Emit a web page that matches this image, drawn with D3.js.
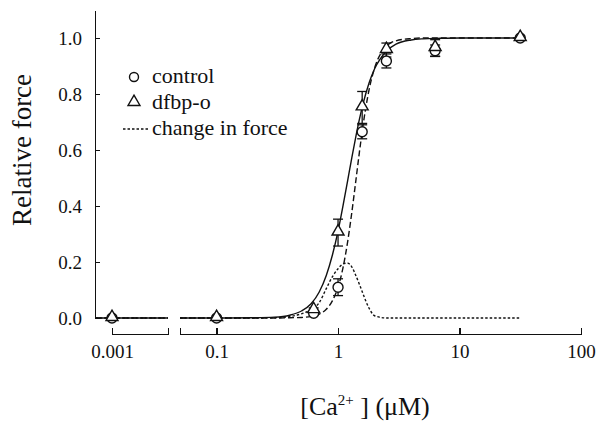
<!DOCTYPE html>
<meta charset="utf-8">
<style>
body { margin: 0; background: #fff; }
text { font-family: "Liberation Serif", "DejaVu Serif", serif; }
.axis path, .axis line { fill: none; stroke: #111; stroke-width: 1.5px; shape-rendering: crispEdges; }
.axis text { fill: #111; font-size: 19px; }
.fit { fill: none; stroke: #111; stroke-width: 1.4px; }
.err { stroke: #111; stroke-width: 1.3px; }
.mark { fill: #fff; stroke: #111; stroke-width: 1.4px; }
</style>
<body>
<script src="https://cdnjs.cloudflare.com/ajax/libs/d3/7.8.5/d3.min.js"></script>
<script>

// measured points (mean +- error)
var concentration = [0.001, 0.1, 0.63, 1.0, 1.58, 2.5, 6.3, 31.6];
var control      = [0, 0, 0.017, 0.11, 0.665, 0.918, 0.955, 1.0];
var controlErr   = [0, 0, 0.008, 0.03, 0.025, 0.025, 0.02, 0];
var dfbp         = [0, 0, 0.028, 0.305, 0.752, 0.957, 0.964, 1.0];
var dfbpErr      = [0, 0, 0.008, 0.048, 0.057, 0.025, 0.03, 0];

// fitted curves
var fitX       = [0.00073, 0.00288, 0.05, 0.1, 0.2, 0.3, 0.4, 0.5, 0.6, 0.7, 0.8, 0.9,
                  1.0, 1.1, 1.2, 1.3, 1.4, 1.5, 1.6, 1.8, 2.0, 2.5, 3, 4, 5, 7, 10, 20, 31.6];
var dfbpFit    = [0, 0, 0, 0, 0.001, 0.003, 0.01, 0.025, 0.051, 0.093, 0.152, 0.226,
                  0.31, 0.402, 0.491, 0.574, 0.647, 0.71, 0.762, 0.839, 0.89, 0.953, 0.978, 0.993, 0.997, 0.999, 1, 1, 1];
var controlFit = [0, 0, 0, 0, 0, 0, 0.001, 0.002, 0.006, 0.014, 0.031, 0.062,
                  0.11, 0.181, 0.273, 0.379, 0.489, 0.593, 0.683, 0.815, 0.893, 0.97, 0.99, 0.998, 1, 1, 1, 1, 1];
var changeFit  = [0, 0, 0, 0, 0, 0.001, 0.005, 0.015, 0.03, 0.055, 0.105, 0.148,
                  0.176, 0.193, 0.196, 0.182, 0.152, 0.12, 0.088, 0.035, 0.008, 0, 0, 0, 0, 0, 0, 0, 0];

var yTicks = [0, 0.2, 0.4, 0.6, 0.8, 1.0];
var xTicks = [0.1, 1, 10, 100];
var xTicksLeft = [0.001];

var serif = "'Liberation Serif', 'DejaVu Serif', serif";

var svg = d3.select("body").append("svg")
    .attr("width", 604)
    .attr("height", 430);

var y = d3.scaleLinear().domain([0, 1.1]).range([318, 10]);
// broken log axis: small piece for 0.001, main piece 0.05..100
var xLeft = d3.scaleLog().domain([0.001, 0.00288]).range([112, 168]);
var xMain = d3.scaleLog().domain([0.05, 100]).range([180, 581]);
function xs(v) { return v < 0.01 ? xLeft(v) : xMain(v); }

// axes
svg.append("g")
    .attr("class", "axis")
    .attr("transform", "translate(95,0)")
    .call(d3.axisLeft(y).tickValues(yTicks).tickSizeInner(-5).tickSizeOuter(0)
      .tickPadding(13).tickFormat(d3.format(".1f")))
    .attr("font-family", serif);

svg.append("g")
    .attr("class", "axis")
    .attr("transform", "translate(0,334)")
    .call(d3.axisBottom(xMain).tickValues(xTicks).tickSizeInner(-6).tickSizeOuter(-6)
      .tickPadding(11).tickFormat(d3.format("")))
    .attr("font-family", serif);

svg.append("g")
    .attr("class", "axis")
    .attr("transform", "translate(0,334)")
    .call(d3.axisBottom(xLeft).tickValues(xTicksLeft).tickSizeInner(-6).tickSizeOuter(-6)
      .tickPadding(11).tickFormat(function(d) { return "0.001"; }))
    .attr("font-family", serif);

// curves, split into the two axis pieces
function drawCurve(vals, dash) {
  var pts = fitX.map(function(v, i) { return [v, vals[i]]; });
  var parts = [pts.filter(function(p) { return p[0] < 0.01; }),
               pts.filter(function(p) { return p[0] >= 0.01; })];
  var line = d3.line()
      .x(function(p) { return xs(p[0]); })
      .y(function(p) { return y(p[1]); })
      .curve(d3.curveMonotoneX);
  parts.forEach(function(part) {
    svg.append("path")
        .attr("class", "fit")
        .attr("d", line(part))
        .style("stroke-dasharray", dash);
  });
}
drawCurve(changeFit, "2.5,2");
drawCurve(controlFit, "6,3");
drawCurve(dfbpFit, null);

// error bars
function drawErr(vals, errs) {
  concentration.forEach(function(c, i) {
    if (!errs[i]) return;
    var cx = xs(c), y0 = y(vals[i] - errs[i]), y1 = y(vals[i] + errs[i]);
    svg.append("line").attr("class", "err").attr("x1", cx).attr("x2", cx).attr("y1", y0).attr("y2", y1);
    [y0, y1].forEach(function(yy) {
      svg.append("line").attr("class", "err")
          .attr("x1", cx - 5).attr("x2", cx + 5).attr("y1", yy).attr("y2", yy);
    });
  });
}
drawErr(control, controlErr);
drawErr(dfbp, dfbpErr);

var tri = d3.symbol().type(d3.symbolTriangle).size(62);

svg.selectAll(".ctl")
    .data(concentration)
  .enter().append("circle")
    .attr("class", "mark")
    .attr("cx", function(d) { return xs(d); })
    .attr("cy", function(d, i) { return y(control[i]); })
    .attr("r", 5);

svg.selectAll(".dfb")
    .data(concentration)
  .enter().append("path")
    .attr("class", "mark")
    .attr("d", tri)
    .attr("transform", function(d, i) { return "translate(" + xs(d) + "," + (y(dfbp[i]) - 1) + ")"; });

// legend
svg.append("circle").attr("class", "mark").attr("cx", 134).attr("cy", 77).attr("r", 4.5);
svg.append("path").attr("class", "mark").attr("d", tri).attr("transform", "translate(134,102)");
svg.append("line").attr("x1", 123).attr("x2", 148).attr("y1", 129).attr("y2", 129)
    .style("stroke", "#111").style("stroke-width", 1.3).style("stroke-dasharray", "2.5,2");

var legendText = ["control", "dfbp-o", "change in force"];
svg.selectAll(".lg")
    .data(legendText)
  .enter().append("text")
    .attr("x", 152)
    .attr("y", function(d, i) { return 83 + i * 26; })
    .attr("font-family", serif)
    .style("font-size", "22px")
    .style("fill", "#111")
    .text(function(d) { return d; });

// axis titles
svg.append("text")
    .attr("transform", "translate(31,150) rotate(-90)")
    .attr("text-anchor", "middle")
    .attr("font-family", serif)
    .style("font-size", "27px")
    .style("fill", "#111")
    .text("Relative force");

var xt = svg.append("text")
    .attr("x", 365)
    .attr("y", 415)
    .attr("text-anchor", "middle")
    .attr("font-family", serif)
    .style("font-size", "26px")
    .style("fill", "#111");
xt.append("tspan").text("[Ca");
xt.append("tspan").attr("dy", -10).style("font-size", "15px").text("2+");
xt.append("tspan").attr("dy", 10).text(" ] (\u03bcM)");

</script>
